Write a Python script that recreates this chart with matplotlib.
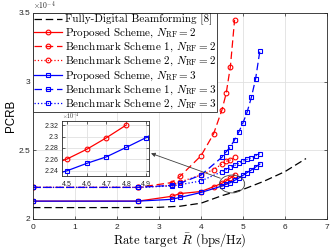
import numpy as np
import matplotlib
matplotlib.use("Agg")
import matplotlib.pyplot as plt
from matplotlib.patches import Ellipse

plt.rcParams['mathtext.fontset'] = 'cm'
plt.rcParams['axes.formatter.use_mathtext'] = True

# datos (PCRB en unidades de 1e-4)
r_fd = [0, 1, 2, 3, 3.5, 4, 4.5, 5, 5.5, 6, 6.5]
crb_fd = [2.083, 2.083, 2.083, 2.085, 2.093, 2.115, 2.17, 2.215, 2.275, 2.345, 2.44]

r_2 = [0, 2.5, 3.3, 3.5, 4, 4.3, 4.5, 4.6, 4.7, 4.8]
prop_2 = [2.13, 2.13, 2.165, 2.185, 2.20, 2.235, 2.2605, 2.2775, 2.2978, 2.32]
bench1_2 = [2.23, 2.23, 2.265, 2.31, 2.46, 2.62, 2.795, 2.915, 3.11, 3.45]
bench2_2 = [2.23, 2.23, 2.245, 2.27, 2.32, 2.36, 2.40, 2.42, 2.43, 2.45]

r_3 = [0, 2.5, 3.3, 3.5, 4, 4.5, 4.6, 4.7, 4.8, 4.9, 5.0, 5.1, 5.2, 5.3, 5.4]
prop_3 = [2.13, 2.13, 2.143, 2.157, 2.193, 2.24, 2.253, 2.2645, 2.281, 2.298,
          2.318, 2.338, 2.357, 2.378, 2.40]
bench1_3 = [2.23, 2.23, 2.245, 2.26, 2.32, 2.45, 2.49, 2.524, 2.577, 2.633,
            2.70, 2.78, 2.886, 3.02, 3.22]
bench2_3 = [2.23, 2.23, 2.24, 2.25, 2.277, 2.345, 2.36, 2.375, 2.39, 2.405,
            2.42, 2.435, 2.447, 2.46, 2.476]

etiquetas = [
    'Fully-Digital Beamforming [8]',
    r'Proposed Scheme, $N_{\mathrm{RF}}=2$',
    r'Benchmark Scheme 1, $N_{\mathrm{RF}}=2$',
    r'Benchmark Scheme 2, $N_{\mathrm{RF}}=2$',
    r'Proposed Scheme, $N_{\mathrm{RF}}=3$',
    r'Benchmark Scheme 1, $N_{\mathrm{RF}}=3$',
    r'Benchmark Scheme 2, $N_{\mathrm{RF}}=3$',
]

lw = 0.9
ms = 3.4
mk = dict(markerfacecolor='none', markersize=ms, markeredgewidth=0.8)


def dibujar(ax, con_fd=True, solo_prop=False):
    if con_fd:
        ax.plot(r_fd, crb_fd, color='k', ls=(0, (6, 3)), lw=lw, label=etiquetas[0])
    ax.plot(r_2, prop_2, color='r', ls='-', marker='o', lw=lw, label=etiquetas[1], **mk)
    if not solo_prop:
        ax.plot(r_2, bench1_2, color='r', ls=(0, (6, 3)), marker='o', lw=lw, label=etiquetas[2], **mk)
        ax.plot(r_2, bench2_2, color='r', ls=':', marker='o', lw=lw, label=etiquetas[3], **mk)
    ax.plot(r_3, prop_3, color='b', ls='-', marker='s', lw=lw, label=etiquetas[4], **mk)
    if not solo_prop:
        ax.plot(r_3, bench1_3, color='b', ls=(0, (6, 3)), marker='s', lw=lw, label=etiquetas[5], **mk)
        ax.plot(r_3, bench2_3, color='b', ls=':', marker='s', lw=lw, label=etiquetas[6], **mk)


def estilo(ax, fs):
    ax.grid(True, color='0.88', lw=0.6)
    ax.set_axisbelow(True)
    ax.tick_params(direction='in', length=2.5, width=0.5, labelsize=fs, pad=2,
                   top=True, right=True, colors='0.15')
    for lbl in ax.get_xticklabels() + ax.get_yticklabels():
        lbl.set_family('Liberation Sans')
    for s in ax.spines.values():
        s.set_linewidth(0.6)
        s.set_color('0.15')


fig = plt.figure(figsize=(3.32, 2.49), dpi=100)
ax = fig.add_axes([0.0994, 0.1205, 0.8855, 0.8275])
dibujar(ax)
ax.set_xlim(0, 7)
ax.set_ylim(2, 3.5)
ax.set_xticks(range(8))
ax.set_yticks([2, 2.5, 3, 3.5])
ax.set_yticklabels(['2', '2.5', '3', '3.5'])
estilo(ax, 6)
ax.set_xlabel(r'Rate target $\bar{R}$ (bps/Hz)', family='cmr10', fontsize=9.2, labelpad=0.5)
ax.set_ylabel('PCRB', family='Liberation Sans', fontsize=8.3, labelpad=1)
ax.text(0.0, 1.005, r'$\times10^{-4}$', transform=ax.transAxes, fontsize=5.5,
        family='Liberation Sans', va='bottom', ha='left', color='0.15')

leg = ax.legend(loc='upper left', bbox_to_anchor=(0, 1), borderaxespad=0,
                prop={'family': 'cmr10', 'size': 8.0}, handlelength=2.5,
                handletextpad=0.25, labelspacing=0.05, borderpad=0.1,
                fancybox=False, framealpha=1, edgecolor='0.15', numpoints=1)
leg.get_frame().set_linewidth(0.6)

# elipse y flecha hacia el zoom
ax.add_patch(Ellipse((4.74, 2.255), 0.6, 0.13, fill=False, ec='0.25', lw=0.6, zorder=5))
ax.annotate('', xy=(2.81, 2.478), xytext=(4.46, 2.297),
            arrowprops=dict(arrowstyle='-|>', color='0.25', lw=0.6,
                            mutation_scale=6, shrinkA=0, shrinkB=0), zorder=5)

# inset
axi = fig.add_axes([0.186, 0.293, 0.264, 0.222])
dibujar(axi, con_fd=False, solo_prop=True)
axi.set_xlim(4.475, 4.917)
axi.set_ylim(2.231, 2.3275)
axi.set_xticks([4.5, 4.6, 4.7, 4.8, 4.9])
axi.set_yticks([2.24, 2.26, 2.28, 2.30, 2.32])
axi.set_yticklabels(['2.24', '2.26', '2.28', '2.3', '2.32'])
estilo(axi, 5)
axi.text(0.0, 1.0, r'$\times10^{-4}$', transform=axi.transAxes, fontsize=4.2,
         family='Liberation Sans', va='bottom', ha='left', color='0.15')

fig.savefig('out.png', dpi=100)
